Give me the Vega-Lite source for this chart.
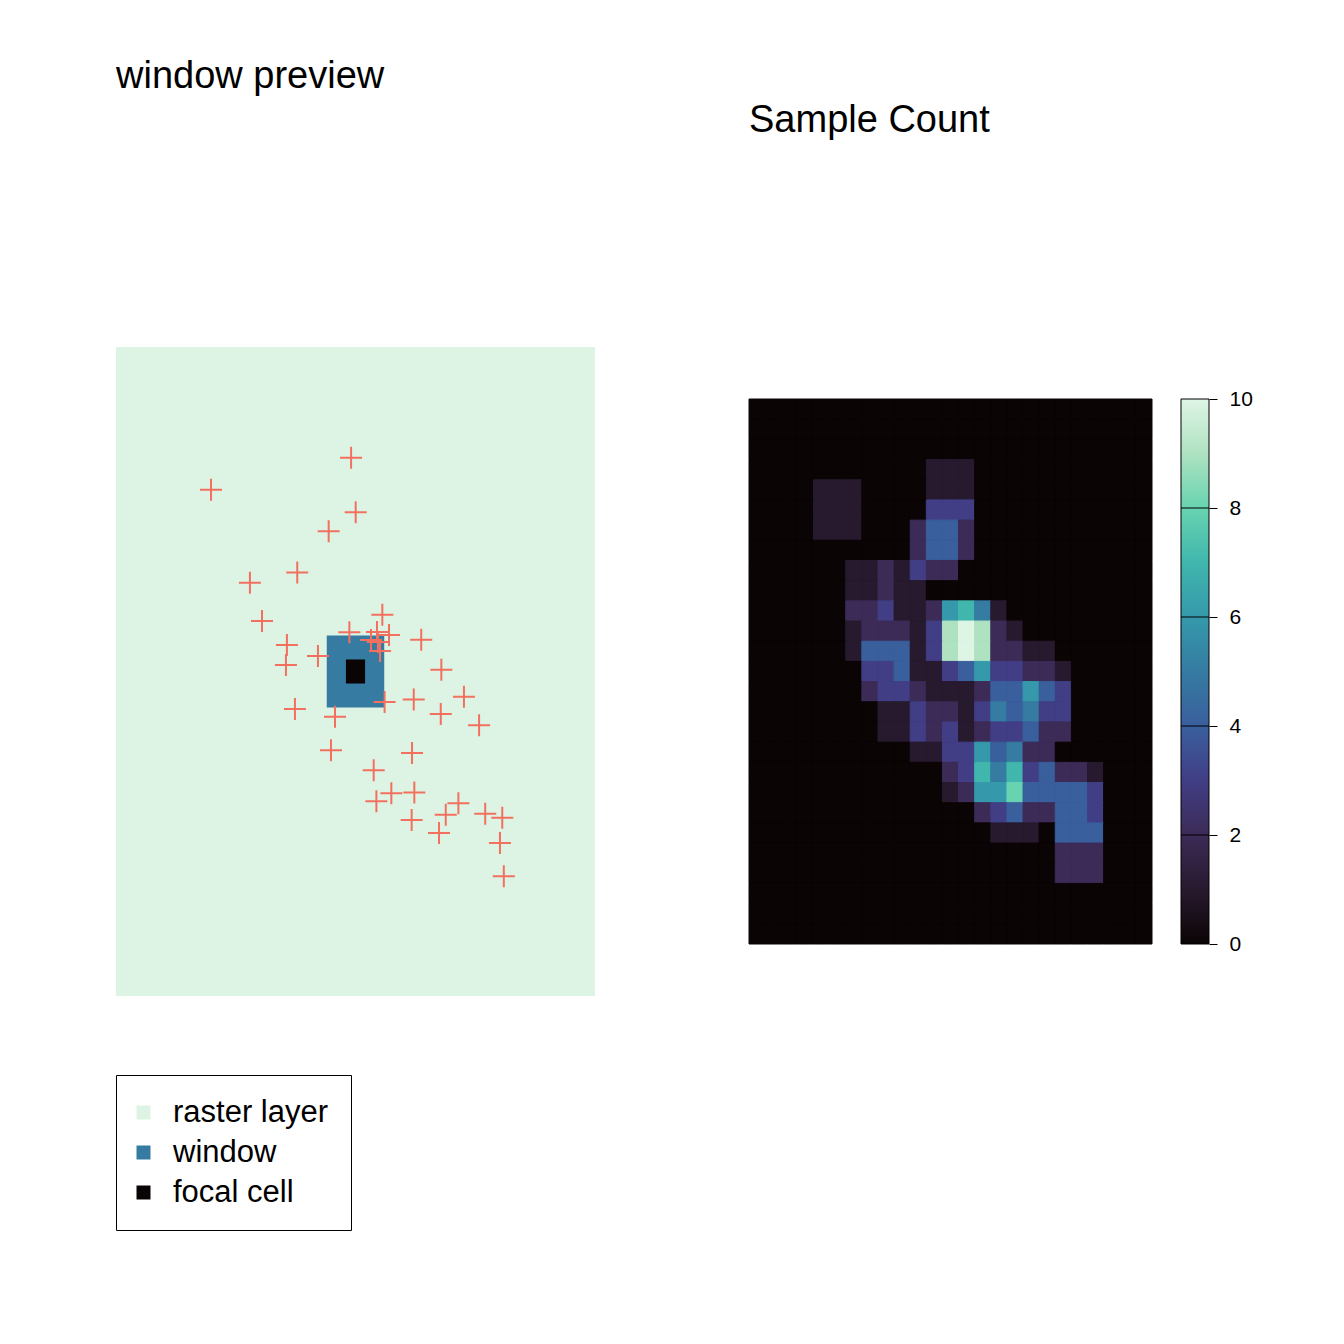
{
"$schema":"https://vega.github.io/schema/vega-lite/v6.json",
"background":"white",
"padding":{"left":115,"top":58,"right":5,"bottom":5},
"config":{"view":{"stroke":null},"font":"Liberation Sans","title":{"font":"Liberation Sans","fontWeight":"normal","color":"black"}},
"bounds":"flush",
"center":true,
"spacing":29,
"resolve":{"scale":{"color":"independent"},"legend":{"color":"independent"}},
"hconcat":[
{
"width":604,"height":649,
"title":{"text":"window preview","anchor":"start","frame":"group","fontSize":38,"offset":221,"baseline":"alphabetic"},
"layer":[
{"data":{"values":[
{"layer":"raster layer","x0":0,"x1":25,"y0":0,"y1":27},
{"layer":"window","x0":11,"x1":14,"y0":12,"y1":15},
{"layer":"focal cell","x0":12,"x1":13,"y0":13,"y1":14}]},
"mark":{"type":"rect"},
"encoding":{
"x":{"field":"x0","type":"quantitative","scale":{"domain":[0,31.524],"nice":false,"zero":false},"axis":null},
"x2":{"field":"x1"},
"y":{"field":"y0","type":"quantitative","scale":{"domain":[0,27],"nice":false,"zero":false},"axis":null},
"y2":{"field":"y1"},
"color":{"field":"layer","type":"nominal","scale":{"domain":["raster layer","window","focal cell"],"range":["#ddf4e4","#357ba2","#0b0405"]},
"legend":{"title":null,"orient":"none","legendX":0,"legendY":728,"direction":"vertical","symbolType":"square","symbolSize":196,"symbolStrokeWidth":0,"symbolOpacity":1,"symbolOffset":-10,"labelFontSize":31,"labelFont":"Liberation Sans","labelColor":"black","labelOffset":14,"padding":22,"rowPadding":8,"strokeColor":"black","labelLimit":600}}
}},
{"data":{"values":[
{"x":12.27,"y":22.39},{"x":4.96,"y":21.06},{"x":12.51,"y":20.12},{"x":11.10,"y":19.33},{"x":9.46,"y":17.62},
{"x":6.99,"y":17.19},{"x":7.62,"y":15.60},{"x":13.90,"y":15.86},{"x":12.18,"y":15.13},{"x":13.62,"y":15.14},
{"x":14.25,"y":15.02},{"x":13.31,"y":14.81},{"x":13.67,"y":14.73},{"x":13.78,"y":14.35},{"x":15.93,"y":14.82},
{"x":8.92,"y":14.60},{"x":8.87,"y":13.77},{"x":10.54,"y":14.14},{"x":16.98,"y":13.57},{"x":18.16,"y":12.45},
{"x":14.02,"y":12.23},{"x":15.54,"y":12.34},{"x":9.34,"y":11.94},{"x":11.43,"y":11.62},{"x":16.95,"y":11.73},
{"x":18.95,"y":11.26},{"x":11.22,"y":10.22},{"x":15.45,"y":10.11},{"x":13.45,"y":9.39},{"x":14.37,"y":8.43},
{"x":15.57,"y":8.47},{"x":13.59,"y":8.10},{"x":17.87,"y":8.02},{"x":17.21,"y":7.54},{"x":19.27,"y":7.58},
{"x":20.16,"y":7.42},{"x":15.43,"y":7.32},{"x":16.86,"y":6.78},{"x":20.04,"y":6.36},{"x":20.24,"y":4.98}]},
"mark":{"type":"point","shape":"M-1,0L1,0M0,-1L0,1","size":484,"filled":false,"color":"#f3705f","strokeWidth":2,"opacity":1},
"encoding":{"x":{"field":"x","type":"quantitative"},"y":{"field":"y","type":"quantitative"}}}
]
},
{
"width":403,"height":545,
"view":{"fill":"#0b0405","stroke":null},
"title":{"text":"Sample Count","anchor":"start","frame":"group","fontSize":38,"offset":229,"baseline":"alphabetic"},
"data":{"values":[
{"c":0,"r":0,"n":0},{"c":1,"r":0,"n":0},{"c":2,"r":0,"n":0},{"c":3,"r":0,"n":0},{"c":4,"r":0,"n":0},{"c":5,"r":0,"n":0},{"c":6,"r":0,"n":0},{"c":7,"r":0,"n":0},{"c":8,"r":0,"n":0},{"c":9,"r":0,"n":0},{"c":10,"r":0,"n":0},{"c":11,"r":0,"n":0},{"c":12,"r":0,"n":0},{"c":13,"r":0,"n":0},{"c":14,"r":0,"n":0},{"c":15,"r":0,"n":0},{"c":16,"r":0,"n":0},{"c":17,"r":0,"n":0},{"c":18,"r":0,"n":0},{"c":19,"r":0,"n":0},{"c":20,"r":0,"n":0},{"c":21,"r":0,"n":0},{"c":22,"r":0,"n":0},{"c":23,"r":0,"n":0},{"c":24,"r":0,"n":0},
{"c":0,"r":1,"n":0},{"c":1,"r":1,"n":0},{"c":2,"r":1,"n":0},{"c":3,"r":1,"n":0},{"c":4,"r":1,"n":0},{"c":5,"r":1,"n":0},{"c":6,"r":1,"n":0},{"c":7,"r":1,"n":0},{"c":8,"r":1,"n":0},{"c":9,"r":1,"n":0},{"c":10,"r":1,"n":0},{"c":11,"r":1,"n":0},{"c":12,"r":1,"n":0},{"c":13,"r":1,"n":0},{"c":14,"r":1,"n":0},{"c":15,"r":1,"n":0},{"c":16,"r":1,"n":0},{"c":17,"r":1,"n":0},{"c":18,"r":1,"n":0},{"c":19,"r":1,"n":0},{"c":20,"r":1,"n":0},{"c":21,"r":1,"n":0},{"c":22,"r":1,"n":0},{"c":23,"r":1,"n":0},{"c":24,"r":1,"n":0},
{"c":0,"r":2,"n":0},{"c":1,"r":2,"n":0},{"c":2,"r":2,"n":0},{"c":3,"r":2,"n":0},{"c":4,"r":2,"n":0},{"c":5,"r":2,"n":0},{"c":6,"r":2,"n":0},{"c":7,"r":2,"n":0},{"c":8,"r":2,"n":0},{"c":9,"r":2,"n":0},{"c":10,"r":2,"n":0},{"c":11,"r":2,"n":0},{"c":12,"r":2,"n":0},{"c":13,"r":2,"n":0},{"c":14,"r":2,"n":0},{"c":15,"r":2,"n":0},{"c":16,"r":2,"n":0},{"c":17,"r":2,"n":0},{"c":18,"r":2,"n":0},{"c":19,"r":2,"n":0},{"c":20,"r":2,"n":0},{"c":21,"r":2,"n":0},{"c":22,"r":2,"n":0},{"c":23,"r":2,"n":0},{"c":24,"r":2,"n":0},
{"c":0,"r":3,"n":0},{"c":1,"r":3,"n":0},{"c":2,"r":3,"n":0},{"c":3,"r":3,"n":0},{"c":4,"r":3,"n":0},{"c":5,"r":3,"n":0},{"c":6,"r":3,"n":0},{"c":7,"r":3,"n":0},{"c":8,"r":3,"n":0},{"c":9,"r":3,"n":0},{"c":10,"r":3,"n":0},{"c":11,"r":3,"n":1},{"c":12,"r":3,"n":1},{"c":13,"r":3,"n":1},{"c":14,"r":3,"n":0},{"c":15,"r":3,"n":0},{"c":16,"r":3,"n":0},{"c":17,"r":3,"n":0},{"c":18,"r":3,"n":0},{"c":19,"r":3,"n":0},{"c":20,"r":3,"n":0},{"c":21,"r":3,"n":0},{"c":22,"r":3,"n":0},{"c":23,"r":3,"n":0},{"c":24,"r":3,"n":0},
{"c":0,"r":4,"n":0},{"c":1,"r":4,"n":0},{"c":2,"r":4,"n":0},{"c":3,"r":4,"n":0},{"c":4,"r":4,"n":1},{"c":5,"r":4,"n":1},{"c":6,"r":4,"n":1},{"c":7,"r":4,"n":0},{"c":8,"r":4,"n":0},{"c":9,"r":4,"n":0},{"c":10,"r":4,"n":0},{"c":11,"r":4,"n":1},{"c":12,"r":4,"n":1},{"c":13,"r":4,"n":1},{"c":14,"r":4,"n":0},{"c":15,"r":4,"n":0},{"c":16,"r":4,"n":0},{"c":17,"r":4,"n":0},{"c":18,"r":4,"n":0},{"c":19,"r":4,"n":0},{"c":20,"r":4,"n":0},{"c":21,"r":4,"n":0},{"c":22,"r":4,"n":0},{"c":23,"r":4,"n":0},{"c":24,"r":4,"n":0},
{"c":0,"r":5,"n":0},{"c":1,"r":5,"n":0},{"c":2,"r":5,"n":0},{"c":3,"r":5,"n":0},{"c":4,"r":5,"n":1},{"c":5,"r":5,"n":1},{"c":6,"r":5,"n":1},{"c":7,"r":5,"n":0},{"c":8,"r":5,"n":0},{"c":9,"r":5,"n":0},{"c":10,"r":5,"n":0},{"c":11,"r":5,"n":3},{"c":12,"r":5,"n":3},{"c":13,"r":5,"n":3},{"c":14,"r":5,"n":0},{"c":15,"r":5,"n":0},{"c":16,"r":5,"n":0},{"c":17,"r":5,"n":0},{"c":18,"r":5,"n":0},{"c":19,"r":5,"n":0},{"c":20,"r":5,"n":0},{"c":21,"r":5,"n":0},{"c":22,"r":5,"n":0},{"c":23,"r":5,"n":0},{"c":24,"r":5,"n":0},
{"c":0,"r":6,"n":0},{"c":1,"r":6,"n":0},{"c":2,"r":6,"n":0},{"c":3,"r":6,"n":0},{"c":4,"r":6,"n":1},{"c":5,"r":6,"n":1},{"c":6,"r":6,"n":1},{"c":7,"r":6,"n":0},{"c":8,"r":6,"n":0},{"c":9,"r":6,"n":0},{"c":10,"r":6,"n":2},{"c":11,"r":6,"n":4},{"c":12,"r":6,"n":4},{"c":13,"r":6,"n":2},{"c":14,"r":6,"n":0},{"c":15,"r":6,"n":0},{"c":16,"r":6,"n":0},{"c":17,"r":6,"n":0},{"c":18,"r":6,"n":0},{"c":19,"r":6,"n":0},{"c":20,"r":6,"n":0},{"c":21,"r":6,"n":0},{"c":22,"r":6,"n":0},{"c":23,"r":6,"n":0},{"c":24,"r":6,"n":0},
{"c":0,"r":7,"n":0},{"c":1,"r":7,"n":0},{"c":2,"r":7,"n":0},{"c":3,"r":7,"n":0},{"c":4,"r":7,"n":0},{"c":5,"r":7,"n":0},{"c":6,"r":7,"n":0},{"c":7,"r":7,"n":0},{"c":8,"r":7,"n":0},{"c":9,"r":7,"n":0},{"c":10,"r":7,"n":2},{"c":11,"r":7,"n":4},{"c":12,"r":7,"n":4},{"c":13,"r":7,"n":2},{"c":14,"r":7,"n":0},{"c":15,"r":7,"n":0},{"c":16,"r":7,"n":0},{"c":17,"r":7,"n":0},{"c":18,"r":7,"n":0},{"c":19,"r":7,"n":0},{"c":20,"r":7,"n":0},{"c":21,"r":7,"n":0},{"c":22,"r":7,"n":0},{"c":23,"r":7,"n":0},{"c":24,"r":7,"n":0},
{"c":0,"r":8,"n":0},{"c":1,"r":8,"n":0},{"c":2,"r":8,"n":0},{"c":3,"r":8,"n":0},{"c":4,"r":8,"n":0},{"c":5,"r":8,"n":0},{"c":6,"r":8,"n":1},{"c":7,"r":8,"n":1},{"c":8,"r":8,"n":2},{"c":9,"r":8,"n":1},{"c":10,"r":8,"n":3},{"c":11,"r":8,"n":2},{"c":12,"r":8,"n":2},{"c":13,"r":8,"n":0},{"c":14,"r":8,"n":0},{"c":15,"r":8,"n":0},{"c":16,"r":8,"n":0},{"c":17,"r":8,"n":0},{"c":18,"r":8,"n":0},{"c":19,"r":8,"n":0},{"c":20,"r":8,"n":0},{"c":21,"r":8,"n":0},{"c":22,"r":8,"n":0},{"c":23,"r":8,"n":0},{"c":24,"r":8,"n":0},
{"c":0,"r":9,"n":0},{"c":1,"r":9,"n":0},{"c":2,"r":9,"n":0},{"c":3,"r":9,"n":0},{"c":4,"r":9,"n":0},{"c":5,"r":9,"n":0},{"c":6,"r":9,"n":1},{"c":7,"r":9,"n":1},{"c":8,"r":9,"n":2},{"c":9,"r":9,"n":1},{"c":10,"r":9,"n":1},{"c":11,"r":9,"n":0},{"c":12,"r":9,"n":0},{"c":13,"r":9,"n":0},{"c":14,"r":9,"n":0},{"c":15,"r":9,"n":0},{"c":16,"r":9,"n":0},{"c":17,"r":9,"n":0},{"c":18,"r":9,"n":0},{"c":19,"r":9,"n":0},{"c":20,"r":9,"n":0},{"c":21,"r":9,"n":0},{"c":22,"r":9,"n":0},{"c":23,"r":9,"n":0},{"c":24,"r":9,"n":0},
{"c":0,"r":10,"n":0},{"c":1,"r":10,"n":0},{"c":2,"r":10,"n":0},{"c":3,"r":10,"n":0},{"c":4,"r":10,"n":0},{"c":5,"r":10,"n":0},{"c":6,"r":10,"n":2},{"c":7,"r":10,"n":2},{"c":8,"r":10,"n":3},{"c":9,"r":10,"n":1},{"c":10,"r":10,"n":1},{"c":11,"r":10,"n":2},{"c":12,"r":10,"n":6},{"c":13,"r":10,"n":7},{"c":14,"r":10,"n":5},{"c":15,"r":10,"n":1},{"c":16,"r":10,"n":0},{"c":17,"r":10,"n":0},{"c":18,"r":10,"n":0},{"c":19,"r":10,"n":0},{"c":20,"r":10,"n":0},{"c":21,"r":10,"n":0},{"c":22,"r":10,"n":0},{"c":23,"r":10,"n":0},{"c":24,"r":10,"n":0},
{"c":0,"r":11,"n":0},{"c":1,"r":11,"n":0},{"c":2,"r":11,"n":0},{"c":3,"r":11,"n":0},{"c":4,"r":11,"n":0},{"c":5,"r":11,"n":0},{"c":6,"r":11,"n":1},{"c":7,"r":11,"n":2},{"c":8,"r":11,"n":2},{"c":9,"r":11,"n":2},{"c":10,"r":11,"n":1},{"c":11,"r":11,"n":3},{"c":12,"r":11,"n":9},{"c":13,"r":11,"n":10},{"c":14,"r":11,"n":9},{"c":15,"r":11,"n":2},{"c":16,"r":11,"n":1},{"c":17,"r":11,"n":0},{"c":18,"r":11,"n":0},{"c":19,"r":11,"n":0},{"c":20,"r":11,"n":0},{"c":21,"r":11,"n":0},{"c":22,"r":11,"n":0},{"c":23,"r":11,"n":0},{"c":24,"r":11,"n":0},
{"c":0,"r":12,"n":0},{"c":1,"r":12,"n":0},{"c":2,"r":12,"n":0},{"c":3,"r":12,"n":0},{"c":4,"r":12,"n":0},{"c":5,"r":12,"n":0},{"c":6,"r":12,"n":1},{"c":7,"r":12,"n":4},{"c":8,"r":12,"n":4},{"c":9,"r":12,"n":4},{"c":10,"r":12,"n":1},{"c":11,"r":12,"n":3},{"c":12,"r":12,"n":9},{"c":13,"r":12,"n":10},{"c":14,"r":12,"n":9},{"c":15,"r":12,"n":2},{"c":16,"r":12,"n":2},{"c":17,"r":12,"n":1},{"c":18,"r":12,"n":1},{"c":19,"r":12,"n":0},{"c":20,"r":12,"n":0},{"c":21,"r":12,"n":0},{"c":22,"r":12,"n":0},{"c":23,"r":12,"n":0},{"c":24,"r":12,"n":0},
{"c":0,"r":13,"n":0},{"c":1,"r":13,"n":0},{"c":2,"r":13,"n":0},{"c":3,"r":13,"n":0},{"c":4,"r":13,"n":0},{"c":5,"r":13,"n":0},{"c":6,"r":13,"n":0},{"c":7,"r":13,"n":3},{"c":8,"r":13,"n":3},{"c":9,"r":13,"n":4},{"c":10,"r":13,"n":1},{"c":11,"r":13,"n":1},{"c":12,"r":13,"n":3},{"c":13,"r":13,"n":4},{"c":14,"r":13,"n":6},{"c":15,"r":13,"n":3},{"c":16,"r":13,"n":3},{"c":17,"r":13,"n":2},{"c":18,"r":13,"n":2},{"c":19,"r":13,"n":1},{"c":20,"r":13,"n":0},{"c":21,"r":13,"n":0},{"c":22,"r":13,"n":0},{"c":23,"r":13,"n":0},{"c":24,"r":13,"n":0},
{"c":0,"r":14,"n":0},{"c":1,"r":14,"n":0},{"c":2,"r":14,"n":0},{"c":3,"r":14,"n":0},{"c":4,"r":14,"n":0},{"c":5,"r":14,"n":0},{"c":6,"r":14,"n":0},{"c":7,"r":14,"n":2},{"c":8,"r":14,"n":3},{"c":9,"r":14,"n":3},{"c":10,"r":14,"n":2},{"c":11,"r":14,"n":1},{"c":12,"r":14,"n":1},{"c":13,"r":14,"n":1},{"c":14,"r":14,"n":2},{"c":15,"r":14,"n":4},{"c":16,"r":14,"n":4},{"c":17,"r":14,"n":6},{"c":18,"r":14,"n":4},{"c":19,"r":14,"n":3},{"c":20,"r":14,"n":0},{"c":21,"r":14,"n":0},{"c":22,"r":14,"n":0},{"c":23,"r":14,"n":0},{"c":24,"r":14,"n":0},
{"c":0,"r":15,"n":0},{"c":1,"r":15,"n":0},{"c":2,"r":15,"n":0},{"c":3,"r":15,"n":0},{"c":4,"r":15,"n":0},{"c":5,"r":15,"n":0},{"c":6,"r":15,"n":0},{"c":7,"r":15,"n":0},{"c":8,"r":15,"n":1},{"c":9,"r":15,"n":1},{"c":10,"r":15,"n":3},{"c":11,"r":15,"n":2},{"c":12,"r":15,"n":2},{"c":13,"r":15,"n":1},{"c":14,"r":15,"n":3},{"c":15,"r":15,"n":5},{"c":16,"r":15,"n":4},{"c":17,"r":15,"n":5},{"c":18,"r":15,"n":3},{"c":19,"r":15,"n":3},{"c":20,"r":15,"n":0},{"c":21,"r":15,"n":0},{"c":22,"r":15,"n":0},{"c":23,"r":15,"n":0},{"c":24,"r":15,"n":0},
{"c":0,"r":16,"n":0},{"c":1,"r":16,"n":0},{"c":2,"r":16,"n":0},{"c":3,"r":16,"n":0},{"c":4,"r":16,"n":0},{"c":5,"r":16,"n":0},{"c":6,"r":16,"n":0},{"c":7,"r":16,"n":0},{"c":8,"r":16,"n":1},{"c":9,"r":16,"n":1},{"c":10,"r":16,"n":3},{"c":11,"r":16,"n":2},{"c":12,"r":16,"n":3},{"c":13,"r":16,"n":1},{"c":14,"r":16,"n":2},{"c":15,"r":16,"n":3},{"c":16,"r":16,"n":3},{"c":17,"r":16,"n":4},{"c":18,"r":16,"n":2},{"c":19,"r":16,"n":2},{"c":20,"r":16,"n":0},{"c":21,"r":16,"n":0},{"c":22,"r":16,"n":0},{"c":23,"r":16,"n":0},{"c":24,"r":16,"n":0},
{"c":0,"r":17,"n":0},{"c":1,"r":17,"n":0},{"c":2,"r":17,"n":0},{"c":3,"r":17,"n":0},{"c":4,"r":17,"n":0},{"c":5,"r":17,"n":0},{"c":6,"r":17,"n":0},{"c":7,"r":17,"n":0},{"c":8,"r":17,"n":0},{"c":9,"r":17,"n":0},{"c":10,"r":17,"n":1},{"c":11,"r":17,"n":1},{"c":12,"r":17,"n":3},{"c":13,"r":17,"n":3},{"c":14,"r":17,"n":6},{"c":15,"r":17,"n":4},{"c":16,"r":17,"n":5},{"c":17,"r":17,"n":2},{"c":18,"r":17,"n":2},{"c":19,"r":17,"n":0},{"c":20,"r":17,"n":0},{"c":21,"r":17,"n":0},{"c":22,"r":17,"n":0},{"c":23,"r":17,"n":0},{"c":24,"r":17,"n":0},
{"c":0,"r":18,"n":0},{"c":1,"r":18,"n":0},{"c":2,"r":18,"n":0},{"c":3,"r":18,"n":0},{"c":4,"r":18,"n":0},{"c":5,"r":18,"n":0},{"c":6,"r":18,"n":0},{"c":7,"r":18,"n":0},{"c":8,"r":18,"n":0},{"c":9,"r":18,"n":0},{"c":10,"r":18,"n":0},{"c":11,"r":18,"n":0},{"c":12,"r":18,"n":2},{"c":13,"r":18,"n":3},{"c":14,"r":18,"n":7},{"c":15,"r":18,"n":5},{"c":16,"r":18,"n":7},{"c":17,"r":18,"n":3},{"c":18,"r":18,"n":4},{"c":19,"r":18,"n":2},{"c":20,"r":18,"n":2},{"c":21,"r":18,"n":1},{"c":22,"r":18,"n":0},{"c":23,"r":18,"n":0},{"c":24,"r":18,"n":0},
{"c":0,"r":19,"n":0},{"c":1,"r":19,"n":0},{"c":2,"r":19,"n":0},{"c":3,"r":19,"n":0},{"c":4,"r":19,"n":0},{"c":5,"r":19,"n":0},{"c":6,"r":19,"n":0},{"c":7,"r":19,"n":0},{"c":8,"r":19,"n":0},{"c":9,"r":19,"n":0},{"c":10,"r":19,"n":0},{"c":11,"r":19,"n":0},{"c":12,"r":19,"n":1},{"c":13,"r":19,"n":2},{"c":14,"r":19,"n":6},{"c":15,"r":19,"n":6},{"c":16,"r":19,"n":8},{"c":17,"r":19,"n":4},{"c":18,"r":19,"n":4},{"c":19,"r":19,"n":4},{"c":20,"r":19,"n":4},{"c":21,"r":19,"n":3},{"c":22,"r":19,"n":0},{"c":23,"r":19,"n":0},{"c":24,"r":19,"n":0},
{"c":0,"r":20,"n":0},{"c":1,"r":20,"n":0},{"c":2,"r":20,"n":0},{"c":3,"r":20,"n":0},{"c":4,"r":20,"n":0},{"c":5,"r":20,"n":0},{"c":6,"r":20,"n":0},{"c":7,"r":20,"n":0},{"c":8,"r":20,"n":0},{"c":9,"r":20,"n":0},{"c":10,"r":20,"n":0},{"c":11,"r":20,"n":0},{"c":12,"r":20,"n":0},{"c":13,"r":20,"n":0},{"c":14,"r":20,"n":2},{"c":15,"r":20,"n":3},{"c":16,"r":20,"n":4},{"c":17,"r":20,"n":2},{"c":18,"r":20,"n":2},{"c":19,"r":20,"n":4},{"c":20,"r":20,"n":4},{"c":21,"r":20,"n":3},{"c":22,"r":20,"n":0},{"c":23,"r":20,"n":0},{"c":24,"r":20,"n":0},
{"c":0,"r":21,"n":0},{"c":1,"r":21,"n":0},{"c":2,"r":21,"n":0},{"c":3,"r":21,"n":0},{"c":4,"r":21,"n":0},{"c":5,"r":21,"n":0},{"c":6,"r":21,"n":0},{"c":7,"r":21,"n":0},{"c":8,"r":21,"n":0},{"c":9,"r":21,"n":0},{"c":10,"r":21,"n":0},{"c":11,"r":21,"n":0},{"c":12,"r":21,"n":0},{"c":13,"r":21,"n":0},{"c":14,"r":21,"n":0},{"c":15,"r":21,"n":1},{"c":16,"r":21,"n":1},{"c":17,"r":21,"n":1},{"c":18,"r":21,"n":0},{"c":19,"r":21,"n":4},{"c":20,"r":21,"n":4},{"c":21,"r":21,"n":4},{"c":22,"r":21,"n":0},{"c":23,"r":21,"n":0},{"c":24,"r":21,"n":0},
{"c":0,"r":22,"n":0},{"c":1,"r":22,"n":0},{"c":2,"r":22,"n":0},{"c":3,"r":22,"n":0},{"c":4,"r":22,"n":0},{"c":5,"r":22,"n":0},{"c":6,"r":22,"n":0},{"c":7,"r":22,"n":0},{"c":8,"r":22,"n":0},{"c":9,"r":22,"n":0},{"c":10,"r":22,"n":0},{"c":11,"r":22,"n":0},{"c":12,"r":22,"n":0},{"c":13,"r":22,"n":0},{"c":14,"r":22,"n":0},{"c":15,"r":22,"n":0},{"c":16,"r":22,"n":0},{"c":17,"r":22,"n":0},{"c":18,"r":22,"n":0},{"c":19,"r":22,"n":2},{"c":20,"r":22,"n":2},{"c":21,"r":22,"n":2},{"c":22,"r":22,"n":0},{"c":23,"r":22,"n":0},{"c":24,"r":22,"n":0},
{"c":0,"r":23,"n":0},{"c":1,"r":23,"n":0},{"c":2,"r":23,"n":0},{"c":3,"r":23,"n":0},{"c":4,"r":23,"n":0},{"c":5,"r":23,"n":0},{"c":6,"r":23,"n":0},{"c":7,"r":23,"n":0},{"c":8,"r":23,"n":0},{"c":9,"r":23,"n":0},{"c":10,"r":23,"n":0},{"c":11,"r":23,"n":0},{"c":12,"r":23,"n":0},{"c":13,"r":23,"n":0},{"c":14,"r":23,"n":0},{"c":15,"r":23,"n":0},{"c":16,"r":23,"n":0},{"c":17,"r":23,"n":0},{"c":18,"r":23,"n":0},{"c":19,"r":23,"n":2},{"c":20,"r":23,"n":2},{"c":21,"r":23,"n":2},{"c":22,"r":23,"n":0},{"c":23,"r":23,"n":0},{"c":24,"r":23,"n":0},
{"c":0,"r":24,"n":0},{"c":1,"r":24,"n":0},{"c":2,"r":24,"n":0},{"c":3,"r":24,"n":0},{"c":4,"r":24,"n":0},{"c":5,"r":24,"n":0},{"c":6,"r":24,"n":0},{"c":7,"r":24,"n":0},{"c":8,"r":24,"n":0},{"c":9,"r":24,"n":0},{"c":10,"r":24,"n":0},{"c":11,"r":24,"n":0},{"c":12,"r":24,"n":0},{"c":13,"r":24,"n":0},{"c":14,"r":24,"n":0},{"c":15,"r":24,"n":0},{"c":16,"r":24,"n":0},{"c":17,"r":24,"n":0},{"c":18,"r":24,"n":0},{"c":19,"r":24,"n":0},{"c":20,"r":24,"n":0},{"c":21,"r":24,"n":0},{"c":22,"r":24,"n":0},{"c":23,"r":24,"n":0},{"c":24,"r":24,"n":0},
{"c":0,"r":25,"n":0},{"c":1,"r":25,"n":0},{"c":2,"r":25,"n":0},{"c":3,"r":25,"n":0},{"c":4,"r":25,"n":0},{"c":5,"r":25,"n":0},{"c":6,"r":25,"n":0},{"c":7,"r":25,"n":0},{"c":8,"r":25,"n":0},{"c":9,"r":25,"n":0},{"c":10,"r":25,"n":0},{"c":11,"r":25,"n":0},{"c":12,"r":25,"n":0},{"c":13,"r":25,"n":0},{"c":14,"r":25,"n":0},{"c":15,"r":25,"n":0},{"c":16,"r":25,"n":0},{"c":17,"r":25,"n":0},{"c":18,"r":25,"n":0},{"c":19,"r":25,"n":0},{"c":20,"r":25,"n":0},{"c":21,"r":25,"n":0},{"c":22,"r":25,"n":0},{"c":23,"r":25,"n":0},{"c":24,"r":25,"n":0},
{"c":0,"r":26,"n":0},{"c":1,"r":26,"n":0},{"c":2,"r":26,"n":0},{"c":3,"r":26,"n":0},{"c":4,"r":26,"n":0},{"c":5,"r":26,"n":0},{"c":6,"r":26,"n":0},{"c":7,"r":26,"n":0},{"c":8,"r":26,"n":0},{"c":9,"r":26,"n":0},{"c":10,"r":26,"n":0},{"c":11,"r":26,"n":0},{"c":12,"r":26,"n":0},{"c":13,"r":26,"n":0},{"c":14,"r":26,"n":0},{"c":15,"r":26,"n":0},{"c":16,"r":26,"n":0},{"c":17,"r":26,"n":0},{"c":18,"r":26,"n":0},{"c":19,"r":26,"n":0},{"c":20,"r":26,"n":0},{"c":21,"r":26,"n":0},{"c":22,"r":26,"n":0},{"c":23,"r":26,"n":0},{"c":24,"r":26,"n":0}
]},
"mark":{"type":"rect","strokeWidth":1},
"encoding":{
"x":{"field":"c","type":"ordinal","scale":{"paddingInner":0,"paddingOuter":0},"axis":null},
"y":{"field":"r","type":"ordinal","scale":{"paddingInner":0,"paddingOuter":0},"axis":null},
"color":{"field":"n","type":"quantitative","scale":{"domain":[0,1,2,3,4,5,6,7,8,9,10],"range":["#0b0405","#271a2e","#3c2b57","#413e85","#3a5f9d","#357ba2","#3599ab","#40b6ad","#68d3b0","#aee2c1","#def5e5"]},"legend":null},
"stroke":{"field":"n","type":"quantitative","scale":{"domain":[0,1,2,3,4,5,6,7,8,9,10],"range":["#0b0405","#271a2e","#3c2b57","#413e85","#3a5f9d","#357ba2","#3599ab","#40b6ad","#68d3b0","#aee2c1","#def5e5"]},"legend":null}
}
},
{
"width":28,"height":545,
"layer":[
{"data":{"values":[{"lo":0,"hi":10}]},
"mark":{"type":"rect","stroke":"black","strokeWidth":1,"fill":{"gradient":"linear","x1":0,"y1":1,"x2":0,"y2":0,"stops":[
{"offset":0,"color":"#0b0405"},{"offset":0.1,"color":"#271a2e"},{"offset":0.2,"color":"#3c2b57"},{"offset":0.3,"color":"#413e85"},{"offset":0.4,"color":"#3a5f9d"},{"offset":0.5,"color":"#357ba2"},{"offset":0.6,"color":"#3599ab"},{"offset":0.7,"color":"#40b6ad"},{"offset":0.8,"color":"#68d3b0"},{"offset":0.9,"color":"#aee2c1"},{"offset":1,"color":"#def5e5"}]}},
"encoding":{
"y":{"field":"lo","type":"quantitative","scale":{"domain":[0,10],"nice":false,"zero":false},
"axis":{"orient":"right","values":[0,2,4,6,8,10],"tickSize":8,"tickColor":"black","tickWidth":1,"domain":false,"grid":false,"labelFontSize":21,"labelFont":"Liberation Sans","labelColor":"black","labelPadding":12,"labelFlush":false,"title":null}},
"y2":{"field":"hi"}}},
{"data":{"values":[{"v":2},{"v":4},{"v":6},{"v":8}]},
"mark":{"type":"rule","color":"black","strokeWidth":1},
"encoding":{"y":{"field":"v","type":"quantitative"}}}
]
}
]
}
